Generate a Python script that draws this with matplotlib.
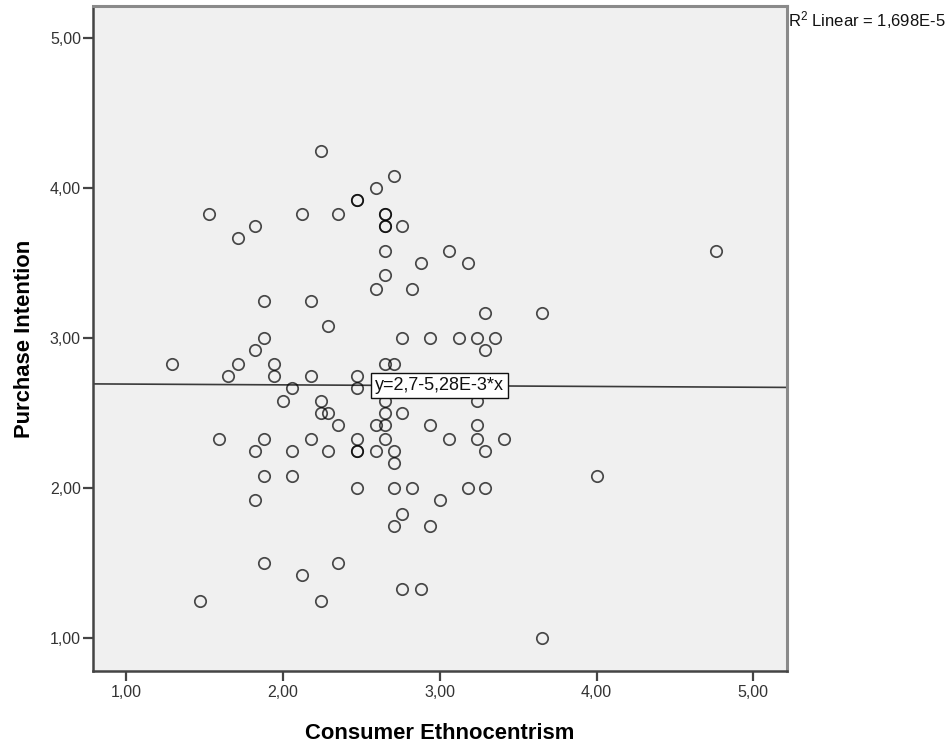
import matplotlib
matplotlib.use('Agg')
import matplotlib.pyplot as plt

# 字体设置
plt.rcParams['font.family'] = ['Liberation Sans', 'DejaVu Sans']
plt.rcParams['mathtext.default'] = 'regular'

# 数据：消费者民族中心主义 vs 购买意向
ethno = [2.24, 1.53, 2.12, 1.82, 1.71, 2.71, 2.59, 2.47, 2.47, 2.35,
         2.65, 2.65, 2.65, 2.65, 2.76, 2.65, 3.06, 4.76, 2.65, 2.59,
         2.82, 1.88, 2.18, 2.29, 1.88, 2.76, 1.82, 1.29, 1.71, 1.94,
         2.65, 2.71, 1.65, 1.94, 2.18, 2.47, 2.06, 2.47, 2.00, 2.24,
         2.65, 2.24, 2.29, 2.65, 2.76, 2.35, 2.59, 2.65, 1.59, 1.88,
         2.18, 2.47, 2.65, 1.82, 2.06, 2.29, 2.47, 2.47, 2.59, 2.71,
         2.71, 1.88, 2.06, 2.47, 2.71, 2.88, 3.18, 3.29, 3.65, 2.94,
         3.12, 3.24, 3.35, 3.29, 3.24, 2.94, 3.24, 3.06, 3.24, 3.41,
         3.29, 4.00, 2.82, 3.18, 3.29, 1.82, 3.00, 2.76, 2.71, 2.94,
         1.88, 2.35, 2.12, 1.47, 2.24, 2.76, 2.88, 3.65]
intention = [4.25, 3.83, 3.83, 3.75, 3.67, 4.08, 4.00, 3.92, 3.92, 3.83,
             3.83, 3.83, 3.75, 3.75, 3.75, 3.58, 3.58, 3.58, 3.42, 3.33,
             3.33, 3.25, 3.25, 3.08, 3.00, 3.00, 2.92, 2.83, 2.83, 2.83,
             2.83, 2.83, 2.75, 2.75, 2.75, 2.75, 2.67, 2.67, 2.58, 2.58,
             2.58, 2.50, 2.50, 2.50, 2.50, 2.42, 2.42, 2.42, 2.33, 2.33,
             2.33, 2.33, 2.33, 2.25, 2.25, 2.25, 2.25, 2.25, 2.25, 2.25,
             2.17, 2.08, 2.08, 2.00, 2.00, 3.50, 3.50, 3.17, 3.17, 3.00,
             3.00, 3.00, 3.00, 2.92, 2.58, 2.42, 2.42, 2.33, 2.33, 2.33,
             2.25, 2.08, 2.00, 2.00, 2.00, 1.92, 1.92, 1.83, 1.75, 1.75,
             1.50, 1.50, 1.42, 1.25, 1.25, 1.33, 1.33, 1.00]

# 线性拟合结果
intercept = 2.7
slope = -5.28e-3
fit_label = 'y=2,7-5,28E-3*x'
r2_label = 'R$^2$ Linear = 1,698E-5'

ticks = [1, 2, 3, 4, 5]
tick_labels = ['1,00', '2,00', '3,00', '4,00', '5,00']

fig = plt.figure(figsize=(9.48, 7.46), dpi=100)
ax = fig.add_axes([0.0978, 0.0999, 0.7322, 0.8925])
ax.set_facecolor('#f0f0f0')

x_lo, x_hi = 0.786, 5.214
ax.set_xlim(x_lo, x_hi)
ax.set_ylim(0.779, 5.217)

# 回归线
ax.plot([x_lo, x_hi], [intercept + slope * x_lo, intercept + slope * x_hi],
        color='#3a3a3a', linewidth=1.2, zorder=2)

# 散点（空心圆）
ax.plot(ethno, intention, 'o', markersize=8.2, markerfacecolor='none',
        markeredgecolor=(0, 0, 0, 0.7), markeredgewidth=1.25, zorder=3)

# 方程标注
xm = 3.0
ax.text(xm, intercept + slope * xm, fit_label, ha='center', va='center',
        fontsize=13, color='#111111', zorder=4,
        bbox=dict(boxstyle='square,pad=0.22', facecolor='white',
                  edgecolor='#111111', linewidth=1.0))

# 坐标轴样式
ax.set_xticks(ticks)
ax.set_xticklabels(tick_labels)
ax.set_yticks(ticks)
ax.set_yticklabels(tick_labels)
ax.tick_params(direction='out', length=7, width=1.6, color='#444444',
               labelsize=11.5, labelcolor='#333333')
ax.tick_params(axis='x', pad=3)
ax.tick_params(axis='y', pad=1.5)

for side in ['left', 'bottom']:
    ax.spines[side].set_color('#444444')
    ax.spines[side].set_linewidth(1.8)
for side in ['top', 'right']:
    ax.spines[side].set_color('#8a8a8a')
    ax.spines[side].set_linewidth(2.2)

ax.set_xlabel('Consumer Ethnocentrism', fontsize=15.8, fontweight='bold',
              labelpad=16)
ax.set_ylabel('Purchase Intention', fontsize=15.8, fontweight='bold',
              labelpad=11)

fig.text(0.831, 0.973, r2_label, ha='left', va='center', fontsize=12,
         color='#111111')

plt.savefig('out.png', dpi=100)
